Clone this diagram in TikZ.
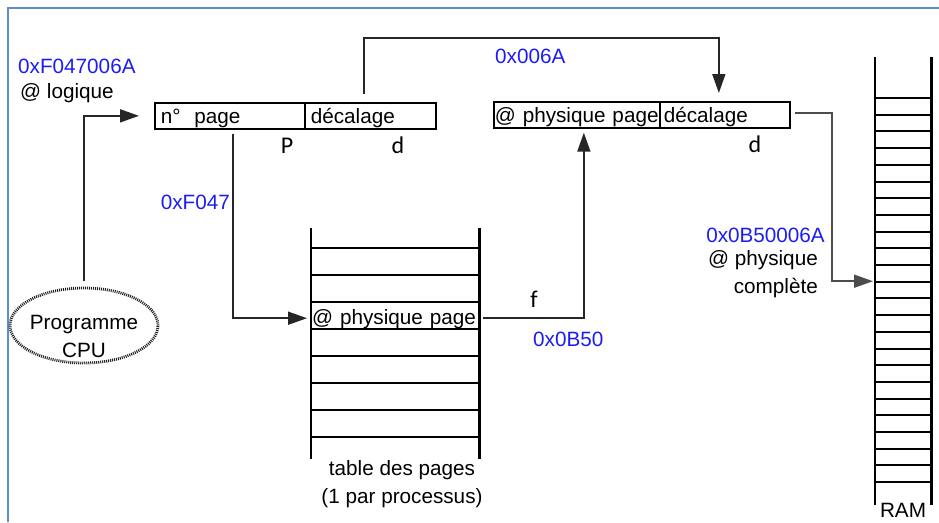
\documentclass[tikz,border=0pt]{standalone}
\usepackage{fontspec}
\setmainfont{Liberation Sans}
\newfontfamily\calibrifont{Carlito}
\usetikzlibrary{arrows.meta,calc,shapes.geometric}
\definecolor{hexblue}{RGB}{28,28,245}
\definecolor{framecol}{RGB}{95,140,205}

\begin{document}
\begin{tikzpicture}[x=1pt,y=-1pt,
  every node/.style={font=\fontsize{20.7}{27.5}\selectfont, inner sep=0pt},
  cell/.style={draw, line width=1.7pt, anchor=north west, inner ysep=0pt,
    text height=21pt, text depth=5pt, align=left},
  conn/.style={line width=1.7pt, black!85},
  arr/.style={-{Triangle[length=19pt,width=13pt]}},
  hex/.style={text=hexblue, anchor=base west},
  lbl/.style={anchor=base west},
  letter/.style={font=\calibrifont\fontsize{24}{28}\selectfont, anchor=base},
  rail/.style={line width=2.2pt, black},
  rung/.style={line width=2pt, black},
]
\useasboundingbox (0,0) rectangle (939,522);

% frame lines
\draw[framecol, line width=2pt] (8,522) -- (8,8) -- (939,8);

% logical address
\node[cell, inner xsep=6pt, text width=138pt] (np) at (154,102) {n°\ \ page};
\node[cell, inner xsep=6pt, text width=119pt] (d1) at (304,102) {décalage};

% physical address
\node[cell, inner xsep=1pt, text width=164pt] (p2) at (493,101) {@ physique page};
\node[cell, inner xsep=4pt, text width=122pt] (d2) at (659,101) {décalage};

% page table
\node[minimum width=168pt, minimum height=231pt, anchor=north west] (pt) at (311,228) {};
\draw[rail] (pt.north west) -- (pt.south west) (pt.north east) -- (pt.south east);
\foreach \k in {0,...,7}
  \draw[rung] ($(pt.north west)+(0,20+27*\k)$) -- ($(pt.north east)+(0,20+27*\k)$);
\node[anchor=north west, inner xsep=1pt, text width=166pt, text height=22pt,
  text depth=5pt, align=left] (row) at (311,302) {@ physique page};

% RAM
\node[minimum width=56pt, minimum height=448pt, anchor=north west] (ram) at (875,57) {};
\draw[rail] (ram.north west) -- (ram.south west) (ram.north east) -- (ram.south east);
\foreach \k in {0,...,23}
  \draw[rung] ($(ram.north west)+(0,41+16.7*\k)$) -- ($(ram.north east)+(0,41+16.7*\k)$);

% CPU
\node[ellipse, draw=black!88, line width=2.8pt, dash pattern=on 1pt off 1pt,
  minimum width=148pt, minimum height=75pt] (cpu) at (84,325.5) {};
\node[align=center, anchor=base] (cputext) at (84,357) {Programme\\CPU};

% connectors
\draw[conn, arr, shorten <=6pt, shorten >=15pt] (cpu.north) |- (np.west);
\draw[conn, arr, shorten <=4pt, shorten >=4pt] ([xshift=3pt]np.south) |- ([yshift=-2.5pt]row.west);
\draw[conn, arr, shorten <=4pt, shorten >=4pt] ([yshift=-2.5pt]row.east) -| ([xshift=7pt]p2.south);
\draw[conn, arr, shorten <=8pt, shorten >=8pt] ([xshift=-6.5pt]d1.north) -- ++(0,-64) -| ([xshift=-6pt]d2.north);
\draw[conn, black!70, arr, shorten <=4pt, shorten >=2pt] ([yshift=2pt]d2.east) -- ++(41,0) |- (ram.west);

% labels
\node[hex] (la) at (18,73) {0xF047006A};
\node[lbl] (lb) at (20,98) {@ logique};
\node[hex, anchor=base east] (lc) at (230,209) {0xF047};
\node[letter] (lp) at (287,153) {P};
\node[letter] (ld1) at (398,153) {d};
\node[hex] (le) at (495,63) {0x006A};
\node[letter] (ld2) at (755,152) {d};
\node[letter] (lf) at (534,307) {f};
\node[hex] (lg) at (533,346) {0x0B50};
\node[hex, anchor=base east] (lh) at (825,242) {0x0B50006A};
\node[align=right, anchor=base east] (li) at (818,293) {@ physique\\complète};
\node[align=center, anchor=base] (lj) at (402,503) {table des pages\\(1 par processus)};
\node[anchor=base] (lk) at (903,517) {RAM};
\end{tikzpicture}
\end{document}
